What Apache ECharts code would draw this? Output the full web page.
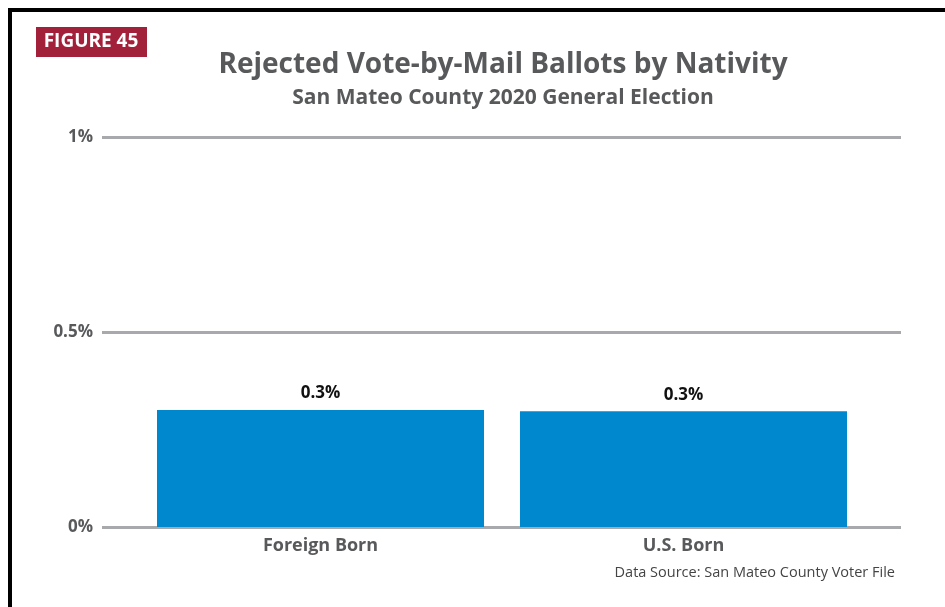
<!DOCTYPE html>
<html>
<head>
<meta charset="utf-8">
<script src="https://cdn.jsdelivr.net/npm/echarts@6/dist/echarts.min.js"></script>
<style>
  html, body { margin: 0; padding: 0; background: #fff; }
  #chart { width: 945px; height: 607px; }
</style>
</head>
<body>
<div id="chart"></div>
<script>
// data
const categories = ['Foreign Born', 'U.S. Born'];
const rejectedPct = [0.30, 0.297];
const valueLabels = ['0.3%', '0.3%'];
const yTicks = [0, 0.5, 1];
const yTickLabels = { 0: '0%', 0.5: '0.5%', 1: '1%' };

const font = '"Open Sans", "Noto Sans", sans-serif';
const grey = '#58595b';

let chart = echarts.init(document.getElementById('chart'));

let option = {
  animation: false,
  textStyle: { fontFamily: font },
  title: [
    {
      text: 'Rejected Vote-by-Mail Ballots by Nativity',
      left: 498, top: 46, textAlign: 'center',
      textStyle: { fontSize: 28, fontWeight: 'bold', color: grey, fontFamily: font }
    },
    {
      text: 'San Mateo County 2020 General Election',
      left: 498, top: 83, textAlign: 'center',
      textStyle: { fontSize: 21, fontWeight: 'bold', color: grey, fontFamily: font }
    }
  ],
  graphic: [
    // frame
    { type: 'rect', shape: { x: 8, y: 8, width: 937, height: 4 }, style: { fill: '#000' } },
    { type: 'rect', shape: { x: 8, y: 8, width: 4, height: 599 }, style: { fill: '#000' } },
    // figure badge
    { type: 'rect', shape: { x: 36, y: 27, width: 111, height: 30 }, style: { fill: '#a3203a' } },
    {
      type: 'text', x: 91, y: 42,
      style: { text: 'FIGURE 45', fill: '#fff', font: 'bold 19px ' + font, align: 'center', verticalAlign: 'middle' }
    },
    {
      type: 'text', x: 895, y: 573,
      style: { text: 'Data Source: San Mateo County Voter File', fill: '#444', font: '14.5px ' + font, align: 'right', verticalAlign: 'middle' }
    }
  ],
  grid: [
    { left: 102, right: 44, top: 137, bottom: 80 },
    { left: 139, right: 80, top: 137, bottom: 80 }
  ],
  xAxis: [
    { type: 'value', gridIndex: 0, show: false, min: 0, max: 1 },
    {
      type: 'category', gridIndex: 1, data: categories,
      axisLine: { show: false }, axisTick: { show: false },
      axisLabel: { color: grey, fontWeight: 'bold', fontSize: 18, margin: 10, fontFamily: font }
    }
  ],
  yAxis: [
    {
      type: 'value', gridIndex: 0, min: 0, max: 1, interval: 0.5,
      axisLine: { show: false }, axisTick: { show: false },
      axisLabel: {
        color: grey, fontWeight: 'bold', fontSize: 17, margin: 9, fontFamily: font,
        formatter: v => yTickLabels[v]
      },
      splitLine: { lineStyle: { color: '#a7a9ac', width: 3 } }
    },
    { type: 'value', gridIndex: 1, min: 0, max: 1, show: false, splitLine: { show: false } }
  ],
  series: [
    {
      type: 'bar', xAxisIndex: 1, yAxisIndex: 1,
      data: rejectedPct, barWidth: 327,
      itemStyle: { color: '#0088cf' },
      label: {
        show: true, position: 'top', distance: 8,
        formatter: p => valueLabels[p.dataIndex],
        color: '#111', fontWeight: 'bold', fontSize: 17, fontFamily: font
      }
    }
  ]
};

chart.setOption(option);
</script>
</body>
</html>
